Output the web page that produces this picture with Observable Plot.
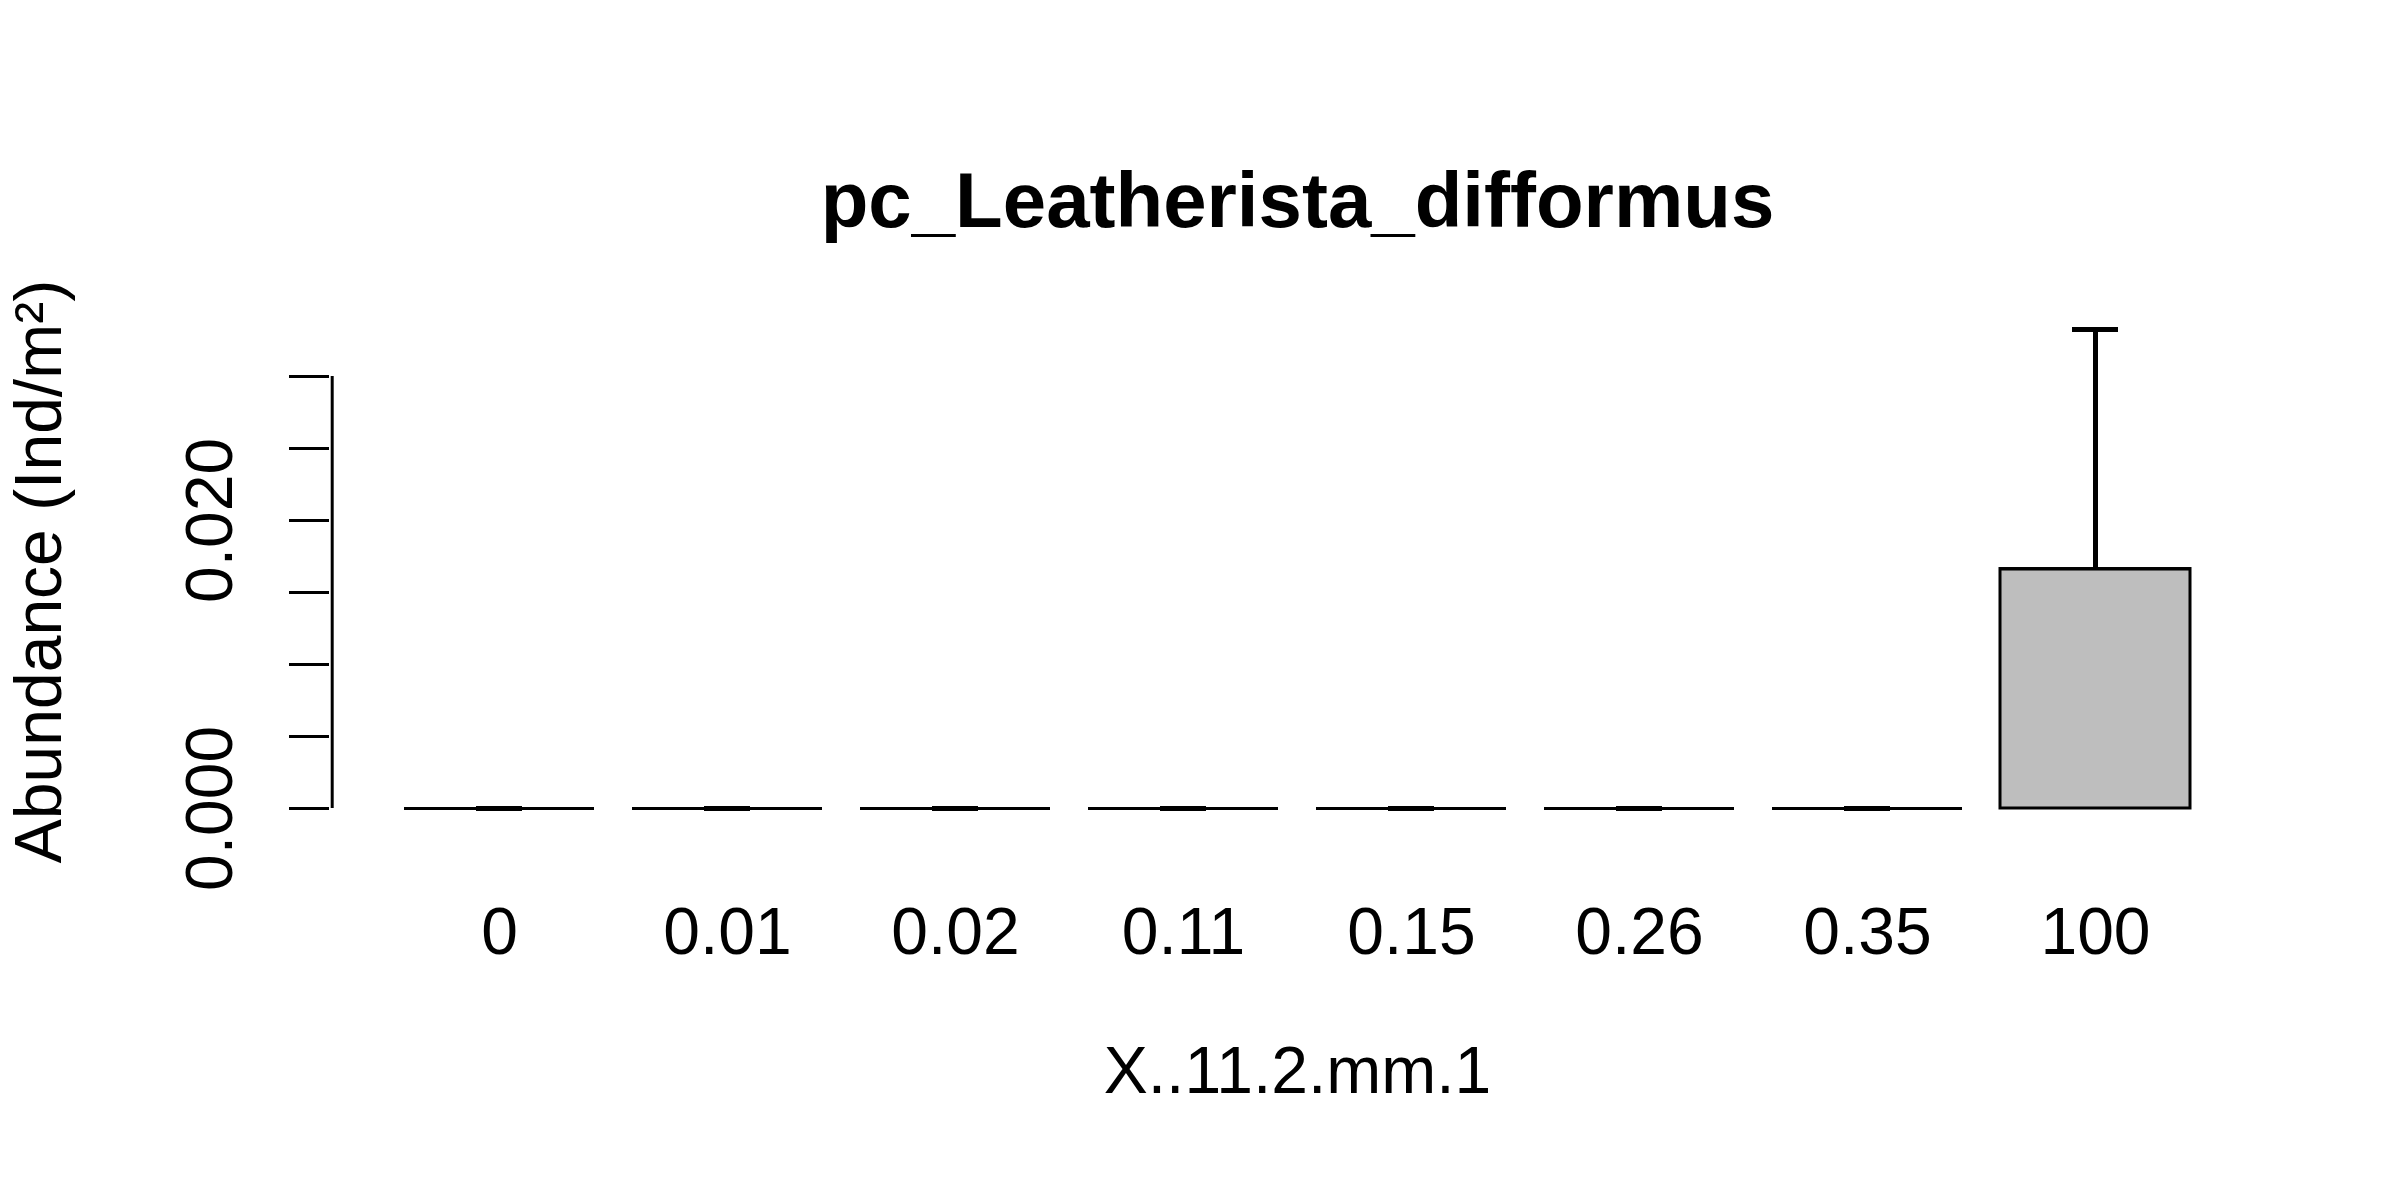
<!DOCTYPE html>
<html><head><meta charset="utf-8">
<script src="https://cdn.jsdelivr.net/npm/d3@7"></script>
<script src="https://cdn.jsdelivr.net/npm/@observablehq/plot@0.6"></script>
<style>body{margin:0;background:#fff}svg{max-width:none!important}</style>
</head><body><div id="c"></div>
<script>
const categories = ["0","0.01","0.02","0.11","0.15","0.26","0.35","100"];
const means = [0,0,0,0,0,0,0,0.01663];
const uppers = [0,0,0,0,0,0,0,0.03326];
const yTicks = [0,0.005,0.01,0.015,0.02,0.025,0.03];
const yLabels = [0,0.02];
const title = "pc_Leatherista_difformus";
const xTitle = "X..11.2.mm.1";
const yTitle = "Abundance (Ind/m²)";
const data = categories.map((c,i)=>({c, m:means[i], u:uppers[i]}));
const F = "Liberation Sans, Arial, sans-serif";
const chart = Plot.plot({
  width:2400, height:1200,
  marginLeft:401, marginRight:207, marginTop:376, marginBottom:392,
  style:{fontFamily:F, background:"#fff"},
  x:{domain:categories, paddingInner:0.2/1.2, paddingOuter:0, axis:null},
  y:{domain:[0,0.03], axis:null},
  marks:[
    Plot.barY(data,{x:"c", y:"m", fill:"#bebebe", stroke:"black", strokeWidth:3}),
    Plot.tickY(data,{x:"c", y:"m", stroke:"black", strokeWidth:3}),
    Plot.ruleX(data,{x:"c", y1:"m", y2:"u", stroke:"black", strokeWidth:5}),
    Plot.tickY(data,{x:"c", y:"u", stroke:"black", strokeWidth:5, insetLeft:72, insetRight:72}),
    Plot.ruleX([0],{x:()=>categories[0], y1:0, y2:0.03, dx:-167.3, stroke:"black", strokeWidth:3}),
    Plot.axisY({ticks:yTicks, tickSize:40, dx:-72, tickFormat:()=>"", stroke:"black", strokeWidth:3, strokeOpacity:1}),
    Plot.text(yLabels,{y:d=>d, text:d=>d.toFixed(3), frameAnchor:"left", textAnchor:"middle", dx:-191, rotate:-90, fontSize:66, fill:"black"}),
    Plot.text(categories,{x:d=>d, y:()=>0, text:d=>d, dy:124, fontSize:66, fill:"black"}),
    Plot.text([xTitle],{frameAnchor:"bottom", dy:284, text:d=>d, fontSize:66, fill:"black"}),
    Plot.text([yTitle],{frameAnchor:"left", textAnchor:"middle", dx:-362, dy:-21, rotate:-90, text:d=>d, fontSize:66, fill:"black"}),
    Plot.text([title],{frameAnchor:"top", dy:-205, text:d=>d, fontSize:78, fontWeight:"bold", fill:"black"})
  ]
});
document.getElementById("c").appendChild(chart);
</script></body></html>
